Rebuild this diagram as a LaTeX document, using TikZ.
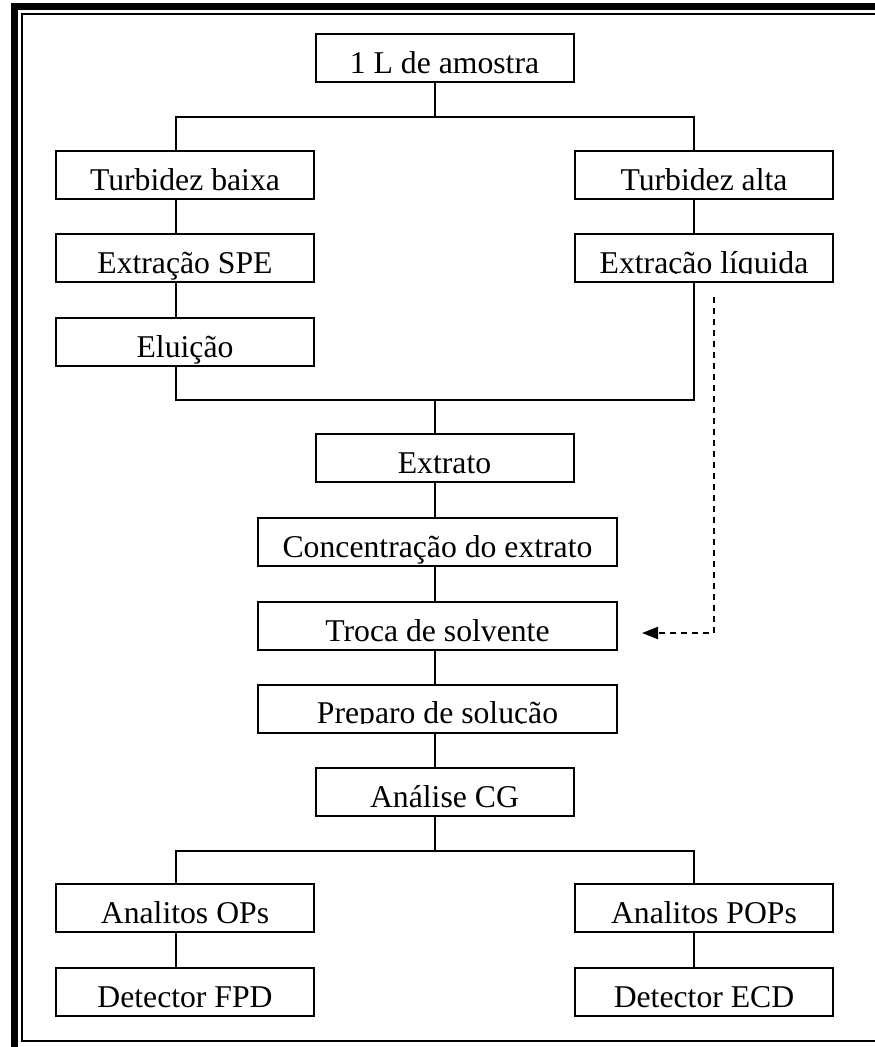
\documentclass[tikz,border=0pt]{standalone}
\usepackage{fontspec}
\setmainfont{Liberation Serif}
\usetikzlibrary{arrows.meta}
\begin{document}
\begin{tikzpicture}[x=1pt,y=-1pt,
  boxn/.style={draw, line width=2pt, minimum height=48pt, inner sep=0pt},
  narrow/.style={boxn, minimum width=258pt},
  wide/.style={boxn, minimum width=359pt},
  lbl/.style={anchor=base, inner sep=0pt, font=\fontsize{31.7}{36}\selectfont},
  conn/.style={line width=2pt},
  dashconn/.style={line width=2pt, dash pattern=on 6pt off 5pt, -{Triangle[length=16pt,width=12pt]}}
]
\useasboundingbox (0,0) rectangle (875,1047);
\fill[white] (0,0) rectangle (875,1047);
% frame
\draw[line width=7pt] (14.5,6.5) rectangle (895,1070);
\draw[line width=2pt] (21.5,14) rectangle (885,1041);

% stem columns
\coordinate (cL) at (176,0);
\coordinate (cC) at (435,0);
\coordinate (cR) at (694,0);

% boxes
\node[narrow] (amostra) at (444.5,58) {};
\node[lbl] (tamostra) at (444.5,73) {1 L de amostra};

\node[narrow] (baixa) at (185,175) {};
\node[lbl] (tbaixa) at (185,190) {Turbidez baixa};
\node[narrow] (alta) at (704,175) {};
\node[lbl] (talta) at (704,190) {Turbidez alta};

\node[narrow] (spe) at (185,258) {};
\node[lbl] (tspe) at (185,273) {Extração SPE};
\node[narrow] (liq) at (704,258) {};
\begin{scope}
  \clip (575,234) rectangle (833,273.8);
  \node[lbl] (tliq) at (704,273) {Extração líquida};
\end{scope}

\node[narrow] (elu) at (185,342) {};
\node[lbl] (telu) at (185,357) {Eluição};

\node[narrow] (extrato) at (444.5,458) {};
\node[lbl] (textrato) at (444.5,473) {Extrato};

\node[wide] (conc) at (437.5,542) {};
\node[lbl] (tconc) at (437.5,557) {Concentração do extrato};

\node[wide] (troca) at (437.5,626) {};
\node[lbl] (ttroca) at (437.5,641) {Troca de solvente};

\node[wide] (prep) at (437.5,709) {};
\begin{scope}
  \clip (258,685) rectangle (617,723);
  \node[lbl] (tprep) at (437.5,723) {Preparo de solução};
\end{scope}

\node[narrow] (cg) at (444.5,792) {};
\node[lbl] (tcg) at (444.5,807) {Análise CG};

\node[narrow] (ops) at (185,908) {};
\node[lbl] (tops) at (185,923) {Analitos OPs};
\node[narrow] (pops) at (704,908) {};
\node[lbl] (tpops) at (704,923) {Analitos POPs};

\node[narrow] (fpd) at (185,992) {};
\node[lbl] (tfpd) at (185,1007) {Detector FPD};
\node[narrow] (ecd) at (704,992) {};
\node[lbl] (tecd) at (704,1007) {Detector ECD};

% junctions
\coordinate (j1) at (435,117);
\coordinate (j2) at (435,400);
\coordinate (j3) at (435,851);

% connectors
\draw[conn] (amostra.south -| cC) -- (j1);
\draw[conn] (baixa.north -| cL) |- (j1) -| (alta.north -| cR);
\draw[conn] (baixa.south -| cL) -- (spe.north -| cL);
\draw[conn] (spe.south -| cL) -- (elu.north -| cL);
\draw[conn] (alta.south -| cR) -- (liq.north -| cR);
\draw[conn] (elu.south -| cL) |- (j2) -| (liq.south -| cR);
\draw[conn] (j2) -- (extrato.north -| cC);
\draw[conn] (extrato.south -| cC) -- (conc.north -| cC);
\draw[conn] (conc.south -| cC) -- (troca.north -| cC);
\draw[conn] (troca.south -| cC) -- (prep.north -| cC);
\draw[conn] (prep.south -| cC) -- (cg.north -| cC);
\draw[conn] (cg.south -| cC) -- (j3);
\draw[conn] (ops.north -| cL) |- (j3) -| (pops.north -| cR);
\draw[conn] (ops.south -| cL) -- (fpd.north -| cL);
\draw[conn] (pops.south -| cR) -- (ecd.north -| cR);

% dashed arrow
\coordinate (d1) at (714,297);
\coordinate (d2) at (714,633);
\coordinate (dE) at (642,633);
\draw[dashconn] (d1) -- (d2) -- (dE);
\end{tikzpicture}
\end{document}
